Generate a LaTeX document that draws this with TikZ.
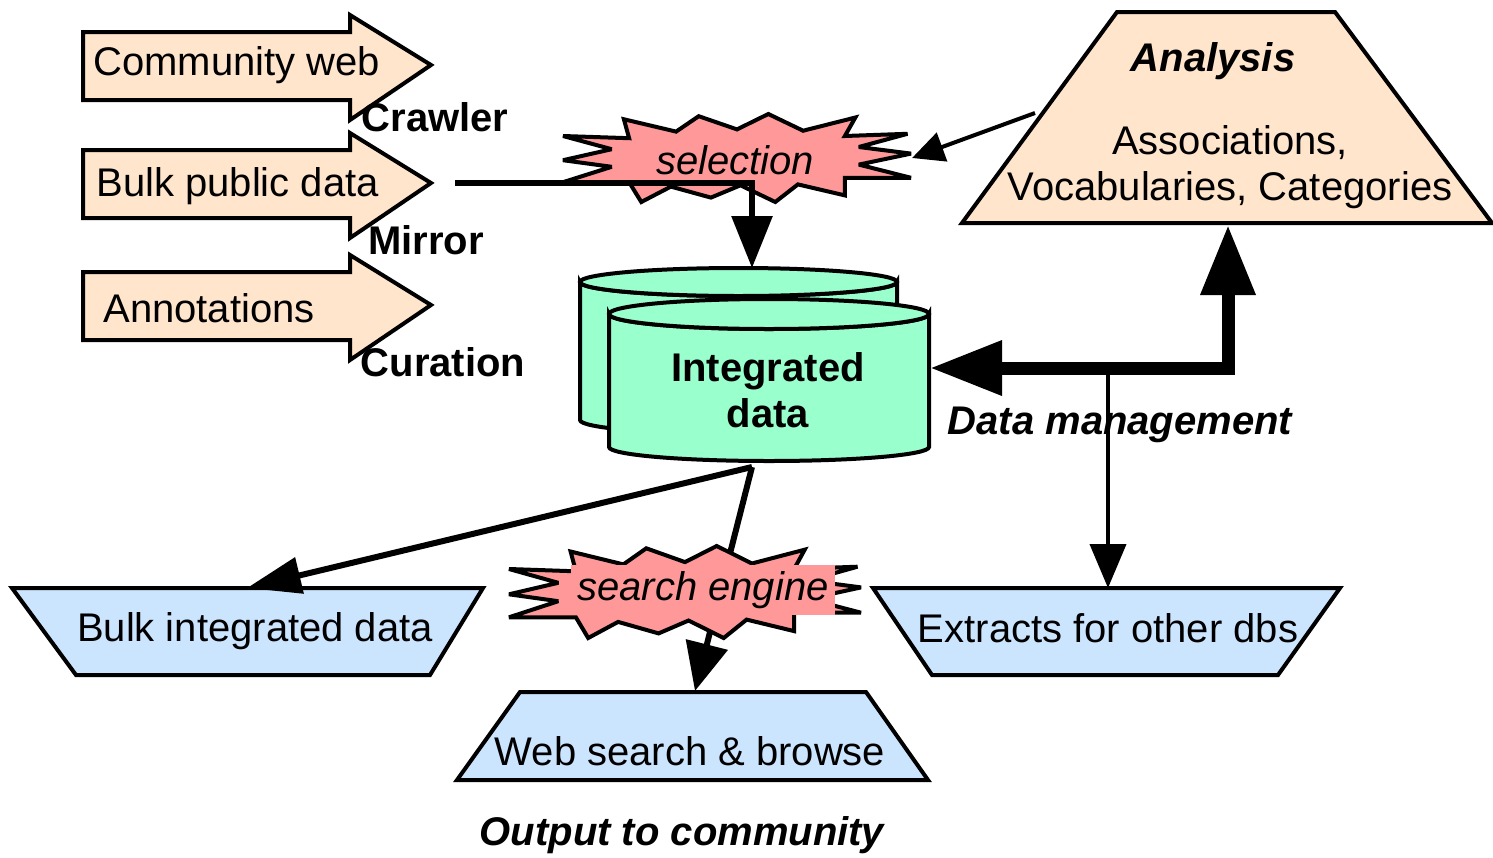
\documentclass[tikz,border=0pt]{standalone}
\usepackage{fontspec}
\setmainfont{Liberation Sans}
\usetikzlibrary{arrows.meta}
\definecolor{peach}{RGB}{255,229,204}
\definecolor{mint}{RGB}{153,255,204}
\definecolor{burstpink}{RGB}{255,153,153}
\definecolor{paleblue}{RGB}{204,229,255}
\begin{document}
\begin{tikzpicture}[x=0.5pt,y=0.5pt,yscale=-1,xscale=1,
  every node/.style={font=\fontsize{20}{23}\selectfont, inner sep=0pt},
  boldtxt/.style={font=\fontsize{20}{23}\selectfont\bfseries},
  headtxt/.style={font=\fontsize{20}{23}\selectfont\bfseries\itshape},
  slanttxt/.style={font=\fontsize{20}{23}\selectfont\itshape},
  outline/.style={draw=black, line width=2pt},
  sourcearrow/.style={outline, fill=peach},
  outbox/.style={outline, fill=paleblue},
  dbshape/.style={outline, fill=mint},
  burstline/.style={outline, fill=burstpink, miter limit=3},
  flow/.style={line width=3pt, -{Triangle[length=26pt,width=20pt]}},
  thinflow/.style={line width=2pt, -{Triangle[length=22pt,width=18pt]}},
  burst/.pic={\draw[burstline] (-0.62,-0.55) -- (-0.55,-1) -- (-0.38,-0.65) -- (-0.15,-0.9) -- (0.02,-0.62) -- (0.22,-1) -- (0.35,-0.6) -- (0.62,-0.85) -- (0.62,-0.45) -- (1,-0.45) -- (0.7,-0.15) -- (1,0.1) -- (0.7,0.25) -- (0.98,0.55) -- (0.62,0.5) -- (0.68,0.92) -- (0.38,0.62) -- (0.18,1) -- (0,0.65) -- (-0.22,0.95) -- (-0.35,0.6) -- (-0.65,0.88) -- (-0.62,0.45) -- (-1,0.5) -- (-0.72,0.2) -- (-1,-0.05) -- (-0.72,-0.2) -- (-1,-0.55) -- cycle;}
]
\useasboundingbox (0,0) rectangle (1493,857);

%Shape: Block arrows (sources)
\draw[sourcearrow] (83,32) -- (350,32) -- (350,15) -- (431,65) -- (350,120) -- (350,100) -- (83,100) -- cycle;
\draw[sourcearrow] (83,150) -- (350,150) -- (350,133) -- (431,183) -- (350,238) -- (350,218) -- (83,218) -- cycle;
\draw[sourcearrow] (83,272) -- (350,272) -- (350,255) -- (431,305) -- (350,360) -- (350,340) -- (83,340) -- cycle;

%Shape: Analysis trapezium
\draw[sourcearrow] (1117,12) -- (1335,12) -- (1492,223) -- (962,223) -- cycle;

%Shape: Output trapezia
\draw[outbox] (12,588) -- (483,588) -- (430,675) -- (76,675) -- cycle;
\draw[outbox] (873,588) -- (1340,588) -- (1278,675) -- (932,675) -- cycle;
\draw[outbox] (520,692) -- (866,692) -- (928,780) -- (457,780) -- cycle;

%Shape: Cylinders
\draw[dbshape] (580,282) -- (580,420) arc[start angle=180,end angle=0,x radius=158.5,y radius=14] -- (897,282) arc[start angle=0,end angle=180,x radius=158.5,y radius=14] -- cycle;
\draw[dbshape] (738.5,282) ellipse [x radius=158.5,y radius=14];
\draw[dbshape] (609,314) -- (609,447) arc[start angle=180,end angle=0,x radius=160,y radius=14] -- (929,314) arc[start angle=0,end angle=180,x radius=160,y radius=15] -- cycle;
\draw[dbshape] (769,314) ellipse [x radius=160,y radius=15];

% Coordinates for connectors
\coordinate (mirrorStart) at (455,183);
\coordinate (dbTop) at (752,268);
\coordinate (dbRight) at (930,368);
\coordinate (dbBottom) at (752,467);
\coordinate (anaBottom) at (1228,225);
\coordinate (anaLeft) at (1035,113);
\coordinate (selRight) at (912,158);
\coordinate (dmJoin) at (1108,368);
\coordinate (extTop) at (1108,588);
\coordinate (bulkTop) at (247,588);
\coordinate (webTop) at (695,691);

%Straight Lines: cylinder to web search (under the burst)
\draw[line width=3pt, -{Triangle[length=24pt,width=21pt]}] (dbBottom) -- (webTop);

%Shape: Bursts
\pic[xscale=174,yscale=44] at (737,158) {burst};
\pic[xscale=176,yscale=46] at (685,592) {burst};

%Straight Lines: connectors
\draw[flow] (mirrorStart) -| (dbTop);
\draw[line width=2pt, -{Triangle[length=16pt,width=15pt]}] (anaLeft) -- (selRight);
\draw[line width=6.5pt, {Triangle[length=36pt,width=26pt]}-{Triangle[length=35pt,width=26pt]}] (dbRight) -| (anaBottom);
\draw[thinflow] (dmJoin) -- (extTop);
\draw[line width=3pt, -{Triangle[length=27pt,width=18pt]}] (dbBottom) -- (bulkTop);

% Text Node
\node[anchor=west] (community) at (93,65) {Community web};
% Text Node
\node[anchor=west] (bulkpub) at (96,186) {Bulk public data};
% Text Node
\node[anchor=west] (annot) at (103,308) {Annotations};
% Text Node
\node[boldtxt] (crawler) at (435,117) {Crawler};
% Text Node
\node[boldtxt] (mirror) at (426,240) {Mirror};
% Text Node
\node[boldtxt] (curation) at (443,362) {Curation};
% Text Node
\node[slanttxt] (selection) at (735,160) {selection};
% Text Node
\node[headtxt] (analysis) at (1213,61) {Analysis};
% Text Node
\node[align=center] (assoc) at (1230,167) {Associations,\\Vocabularies, Categories};
% Text Node
\node[boldtxt, align=center] (integrated) at (768,390) {Integrated\\data};
% Text Node
\node[headtxt] (datamgmt) at (1120,425) {Data management};
% Text Node
\node[slanttxt, fill=burstpink, minimum height=25pt, inner xsep=3pt] (search) at (703,590) {search engine};
% Text Node
\node (bulkint) at (255,631) {Bulk integrated data};
% Text Node
\node (extracts) at (1108,628) {Extracts for other dbs};
% Text Node
\node (websearch) at (690,751) {Web search \& browse};
% Text Node
\node[headtxt] (output) at (682,835) {Output to community};

\end{tikzpicture}
\end{document}
